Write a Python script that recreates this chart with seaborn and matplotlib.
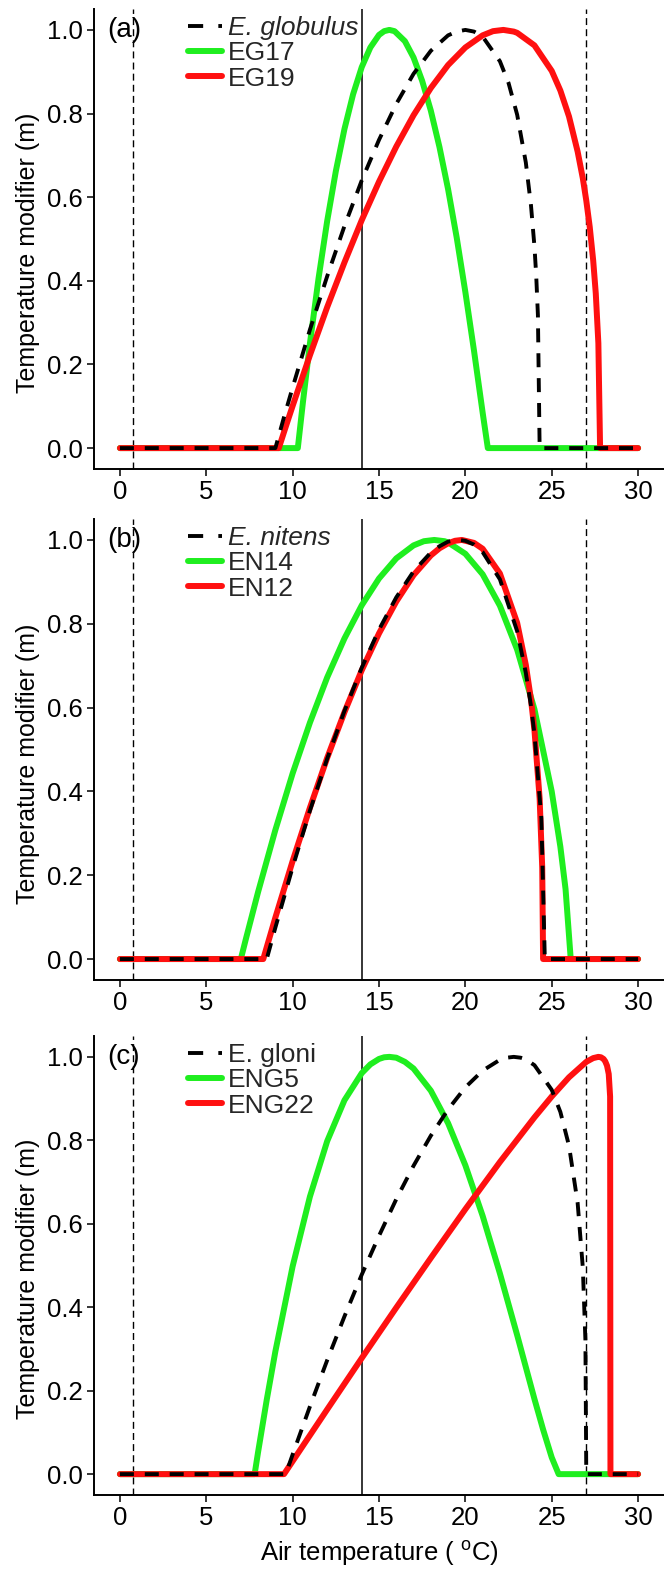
import matplotlib
matplotlib.use("Agg")
import matplotlib.pyplot as plt
from matplotlib.lines import Line2D
import seaborn as sns

# ---------------- data: temperature modifier curves ----------------
# panel (a): E. globulus
glob_t = [0, 9.0, 9.5, 10, 11, 12, 13, 14, 15, 16, 17, 18, 19, 19.5, 20, 20.5, 21, 22, 22.5,
          23, 23.5, 23.8, 24, 24.1, 24.2, 24.3, 30]
glob_m = [0, 0, 0.074, 0.145, 0.283, 0.411, 0.531, 0.640, 0.737, 0.823, 0.895, 0.950, 0.987,
          0.996, 1.0, 0.996, 0.984, 0.925, 0.873, 0.797, 0.683, 0.580, 0.482, 0.414, 0.318, 0, 0]
eg17_t = [0, 10.3, 10.6, 11, 11.5, 12, 12.5, 13, 13.5, 14, 14.5, 15, 15.3, 15.6, 15.9, 16.5,
          17, 17.5, 18, 18.5, 19, 19.5, 20, 20.5, 21, 21.3, 30]
eg17_m = [0, 0, 0.111, 0.250, 0.406, 0.543, 0.662, 0.763, 0.846, 0.911, 0.958, 0.988, 0.997,
          1.0, 0.997, 0.973, 0.934, 0.878, 0.807, 0.720, 0.619, 0.503, 0.373, 0.233, 0.085, 0, 0]
eg19_t = [0, 9.2, 9.6, 10, 11, 12, 13, 14, 15, 16, 17, 18, 19, 20, 21, 21.6, 22.2, 22.8, 23,
          24, 25, 25.5, 26, 26.5, 26.8, 27, 27.2, 27.4, 27.55, 27.7, 27.8, 30]
eg19_m = [0, 0, 0.051, 0.101, 0.222, 0.337, 0.444, 0.545, 0.637, 0.721, 0.796, 0.861, 0.916,
          0.958, 0.987, 0.997, 1.0, 0.996, 0.993, 0.963, 0.902, 0.855, 0.793, 0.709, 0.645,
          0.592, 0.529, 0.449, 0.370, 0.251, 0, 0]

# panel (b): E. nitens
nit_t = [0, 8.5, 9, 10, 11, 12, 13, 14, 15, 16, 17, 18, 18.5, 19, 19.6, 20, 20.5, 21, 22, 23,
         23.5, 23.8, 24, 24.4, 24.6, 30]
nit_m = [0, 0, 0.075, 0.219, 0.354, 0.478, 0.592, 0.695, 0.786, 0.863, 0.925, 0.970, 0.985,
         0.996, 1.0, 0.998, 0.989, 0.971, 0.906, 0.782, 0.683, 0.604, 0.537, 0.336, 0, 0]
en14_t = [0, 7.0, 7.3, 8, 9, 10, 11, 12, 13, 14, 15, 16, 17, 17.6, 18.2, 18.8, 19, 20, 21, 22,
          23, 24, 25, 25.5, 25.8, 26.1, 30]
en14_m = [0, 0, 0.049, 0.160, 0.308, 0.443, 0.564, 0.672, 0.765, 0.844, 0.908, 0.956, 0.987,
          0.997, 1.0, 0.997, 0.994, 0.967, 0.918, 0.843, 0.738, 0.596, 0.400, 0.268, 0.167, 0, 0]
en12_t = [0, 8.3, 9, 10, 11, 12, 13, 14, 15, 16, 17, 18, 18.5, 19, 19.4, 19.8, 20.5, 21, 22,
          23, 23.5, 23.8, 24, 24.3, 24.45, 24.5, 30]
en12_m = [0, 0, 0.099, 0.234, 0.361, 0.480, 0.589, 0.689, 0.777, 0.853, 0.916, 0.963, 0.980,
          0.992, 0.998, 1.0, 0.993, 0.979, 0.920, 0.802, 0.702, 0.619, 0.546, 0.383, 0.218, 0, 0]

# panel (c): E. gloni
gloni_t = [0, 9.6, 10, 11, 12, 13, 14, 15, 16, 17, 18, 19, 20, 21, 22, 22.4, 22.8, 23.2, 23.5,
           24, 25, 25.5, 26, 26.5, 26.8, 26.95, 27.0, 30]
gloni_m = [0, 0, 0.047, 0.162, 0.273, 0.378, 0.478, 0.571, 0.659, 0.739, 0.811, 0.874, 0.927,
           0.967, 0.993, 0.998, 1.0, 0.998, 0.994, 0.980, 0.921, 0.868, 0.787, 0.650, 0.495,
           0.321, 0, 0]
eng5_t = [0, 7.8, 8, 8.5, 9, 10, 11, 12, 13, 14, 14.5, 15, 15.3, 15.6, 16, 16.5, 17, 18, 19,
          20, 21, 22, 23, 24, 24.5, 25, 25.4, 30]
eng5_m = [0, 0, 0.053, 0.178, 0.294, 0.498, 0.665, 0.798, 0.896, 0.961, 0.982, 0.995, 0.999,
          1.0, 0.998, 0.988, 0.972, 0.919, 0.841, 0.740, 0.619, 0.481, 0.333, 0.180, 0.107,
          0.040, 0, 0]
eng22_t = [0, 9.5, 10, 12, 14, 16, 18, 20, 22, 24, 25, 26, 27, 27.4, 27.7, 27.85, 28.0, 28.1,
           28.2, 28.3, 28.38, 28.4, 30]
eng22_m = [0, 0, 0.031, 0.155, 0.278, 0.399, 0.518, 0.635, 0.748, 0.855, 0.905, 0.951, 0.988,
           0.997, 1.0, 0.999, 0.995, 0.989, 0.979, 0.959, 0.905, 0, 0]

panel_tags = ["(a)", "(b)", "(c)"]
species_names = ["E. globulus", "E. nitens", "E. gloni"]
species_italic = [True, True, False]
clone_green = ["EG17", "EN14", "ENG5"]
clone_red = ["EG19", "EN12", "ENG22"]

species_curves = [(glob_t, glob_m), (nit_t, nit_m), (gloni_t, gloni_m)]
green_curves = [(eg17_t, eg17_m), (en14_t, en14_m), (eng5_t, eng5_m)]
red_curves = [(eg19_t, eg19_m), (en12_t, en12_m), (eng22_t, eng22_m)]

limit_temps = [0.76, 27.0]   # dashed reference temperatures
mean_temp = [14.0]           # solid reference temperature
x_ticks = [0, 5, 10, 15, 20, 25, 30]
y_ticks = [0.0, 0.2, 0.4, 0.6, 0.8, 1.0]

# ---------------- styling ----------------
GREEN = "#1fee1f"
RED = "#ff1010"
sns.set_theme(style="ticks")
plt.rcParams["font.family"] = ["Liberation Sans", "DejaVu Sans"]
plt.rcParams["mathtext.fontset"] = "custom"
plt.rcParams["mathtext.rm"] = "Liberation Sans"
plt.rcParams["mathtext.it"] = "Liberation Sans:italic"

fig = plt.figure(figsize=(6.64, 15.69), dpi=100)
W, H = 664.0, 1569.0
left_px, right_px = 94, 664
panel_px = [(9, 469), (519, 980), (1036, 1495)]

for i, (top, bot) in enumerate(panel_px):
    ax = fig.add_axes([left_px / W, 1 - bot / H, (right_px - left_px) / W, (bot - top) / H])

    for xv in limit_temps:
        ax.axvline(xv, color="black", lw=1.0, linestyle=(0, (5, 3)), zorder=1)
    for xv in mean_temp:
        ax.axvline(xv, color="black", lw=1.1, zorder=1)

    gt, gm = green_curves[i]
    rt, rm = red_curves[i]
    st, sm = species_curves[i]
    sns.lineplot(x=gt, y=gm, ax=ax, color=GREEN, lw=4.3, estimator=None, sort=False,
                 legend=False, zorder=3)
    sns.lineplot(x=rt, y=rm, ax=ax, color=RED, lw=4.3, estimator=None, sort=False,
                 legend=False, zorder=4)
    sns.lineplot(x=st, y=sm, ax=ax, color="black", lw=2.8, estimator=None, sort=False,
                 legend=False, zorder=5, linestyle=(0, (3.6, 2.8)))

    ax.set_xlim(-1.5, 31.5)
    ax.set_ylim(-0.05, 1.05)
    ax.set_xticks(x_ticks)
    ax.set_xticklabels([str(v) for v in x_ticks])
    ax.set_yticks(y_ticks)
    ax.set_yticklabels([f"{v:.1f}" for v in y_ticks])
    ax.tick_params(axis="both", labelsize=18.5, length=5, width=1.1, color="black",
                   labelcolor="black", pad=3)
    sns.despine(ax=ax)
    for sp in ("left", "bottom"):
        ax.spines[sp].set_linewidth(1.4)
        ax.spines[sp].set_color("black")
    ax.set_xlabel("")
    ax.set_ylabel("Temperature modifier (m)", fontsize=18, color="black")
    ax.yaxis.set_label_coords(-0.095, 0.47)

    ax.text(-0.75, 1.0, panel_tags[i], fontsize=20, va="center", ha="left", color="black")

    handles = [
        Line2D([], [], color="black", lw=2.8, dashes=(3.9, 3.9)),
        Line2D([], [], color=GREEN, lw=4.3),
        Line2D([], [], color=RED, lw=4.3),
    ]
    leg = ax.legend(handles, [species_names[i], clone_green[i], clone_red[i]],
                    loc="upper left", bbox_to_anchor=(0.165, 0.985), frameon=False,
                    fontsize=19, handlelength=1.3, handletextpad=0.2, labelspacing=0.05,
                    borderpad=0, borderaxespad=0)
    if species_italic[i]:
        leg.get_texts()[0].set_fontstyle("italic")

fig.text(379 / W, 1 - 1553 / H, "Air temperature ( $^{\\mathrm{o}}$C)", fontsize=18.5,
         ha="center", va="center", color="black")

fig.savefig("out.png", dpi=100)
